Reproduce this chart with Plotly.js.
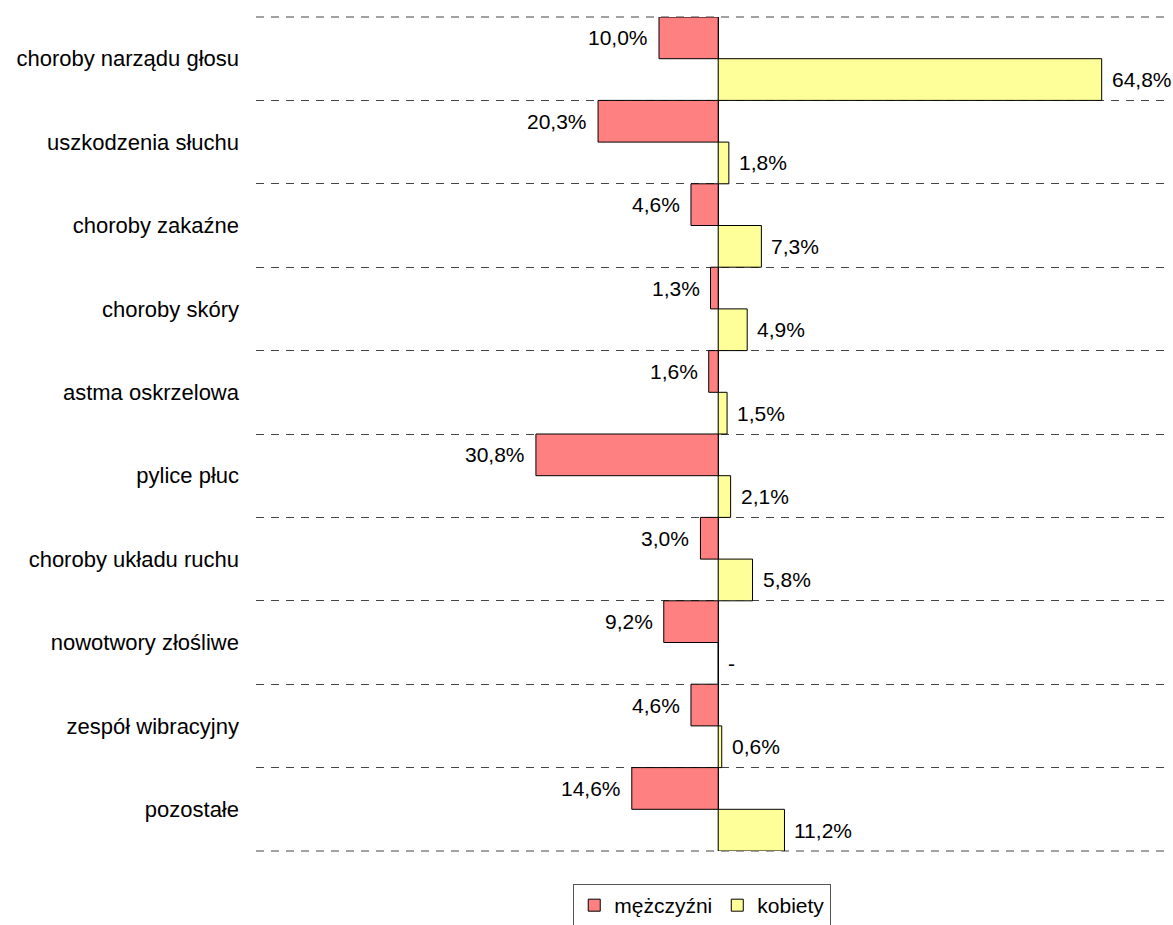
<!DOCTYPE html>
<html>
<head>
<meta charset="utf-8">
<script src="https://cdn.plot.ly/plotly-3.0.1.min.js"></script>
<style>html,body{margin:0;padding:0;background:#fff;}#chart{width:1173px;height:925px;}</style>
</head>
<body>
<div id="chart"></div>
<script>
const categories = [
  "choroby narządu głosu",
  "uszkodzenia słuchu",
  "choroby zakaźne",
  "choroby skóry",
  "astma oskrzelowa",
  "pylice płuc",
  "choroby układu ruchu",
  "nowotwory złośliwe",
  "zespół wibracyjny",
  "pozostałe"
];
const men = [10.0, 20.3, 4.6, 1.3, 1.6, 30.8, 3.0, 9.2, 4.6, 14.6];
const women = [64.8, 1.8, 7.3, 4.9, 1.5, 2.1, 5.8, 0, 0.6, 11.2];
const menLabels = ["10,0%", "20,3%", "4,6%", "1,3%", "1,6%", "30,8%", "3,0%", "9,2%", "4,6%", "14,6%"];
const womenLabels = ["64,8%", "1,8%", "7,3%", "4,9%", "1,5%", "2,1%", "5,8%", "-", "0,6%", "11,2%"];
const seriesNames = ["mężczyźni", "kobiety"];

const FONT = "Liberation Sans, Arial, sans-serif";
const FS = 21;
const GRID = {color: "#444", width: 1, dash: "8px,7px"};

const traces = [
  {
    type: "bar", orientation: "h", name: seriesNames[0],
    y: categories, x: men.map(v => -v),
    marker: {color: "#FF8080", line: {color: "#000", width: 1}},
    hoverinfo: "skip"
  },
  {
    type: "bar", orientation: "h", name: seriesNames[1],
    y: categories, x: women,
    marker: {color: "#FFFF99", line: {color: "#000", width: 1}},
    hoverinfo: "skip"
  }
];

const annotations = [];
categories.forEach((c, i) => {
  annotations.push({
    x: -men[i], y: i - 0.25, xref: "x", yref: "y",
    text: menLabels[i], showarrow: false, xanchor: "right", yanchor: "middle",
    xshift: -9, font: {family: FONT, size: FS, color: "#000"}
  });
  annotations.push({
    x: women[i], y: i + 0.25, xref: "x", yref: "y",
    text: womenLabels[i], showarrow: false, xanchor: "left", yanchor: "middle",
    xshift: 8, font: {family: FONT, size: FS, color: "#000"}
  });
});

// outer dashed frame lines (top and bottom boundaries of the category band)
const shapes = [0, 1].map(p => ({
  type: "line", xref: "paper", yref: "paper", x0: 0, x1: 1, y0: p, y1: p,
  line: GRID, layer: "below"
}));

const layout = {
  width: 1173, height: 925,
  margin: {l: 256, r: 8, t: 17, b: 74, pad: 0, autoexpand: false},
  paper_bgcolor: "#fff", plot_bgcolor: "#fff",
  font: {family: FONT, size: FS, color: "#000"},
  barmode: "group", bargap: 0, bargroupgap: 0,
  showlegend: true,
  legend: {
    orientation: "h", x: 0.349, y: -0.0396, xanchor: "left", yanchor: "top",
    xref: "paper", yref: "paper",
    bordercolor: "#555", borderwidth: 1, bgcolor: "#fff",
    font: {family: FONT, size: FS, color: "#000"},
    traceorder: "normal"
  },
  xaxis: {
    range: [-78.1, 75.5], showticklabels: false, showgrid: false,
    zeroline: true, zerolinecolor: "#000", zerolinewidth: 1,
    showline: false, ticks: "", fixedrange: true
  },
  yaxis: {
    type: "category", autorange: "reversed",
    tickson: "boundaries", ticks: "", showgrid: true,
    gridcolor: GRID.color, gridwidth: GRID.width, griddash: GRID.dash,
    showline: false, zeroline: false,
    ticklabelstandoff: 16,
    tickfont: {family: FONT, size: 22, color: "#000"},
    fixedrange: true
  },
  shapes: shapes,
  annotations: annotations
};

Plotly.newPlot("chart", traces, layout, {displayModeBar: false, staticPlot: true});
</script>
</body>
</html>
